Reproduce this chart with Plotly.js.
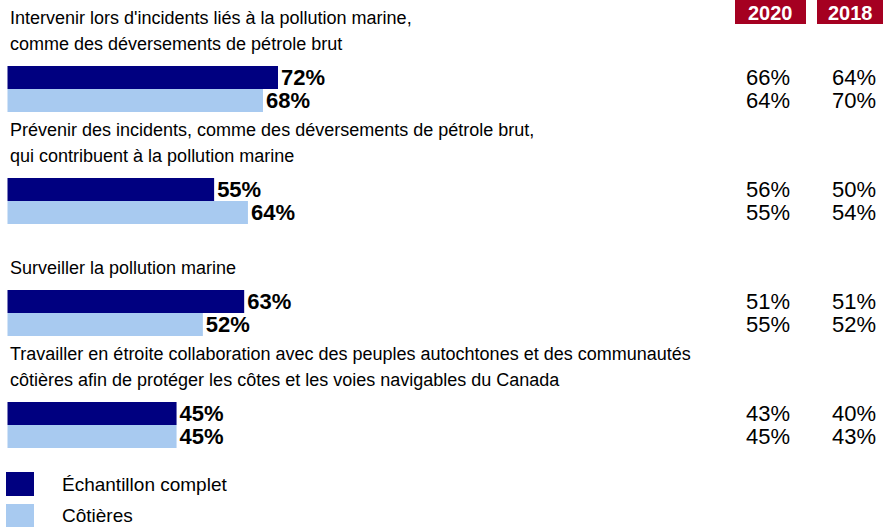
<!DOCTYPE html>
<html>
<head>
<meta charset="utf-8">
<script src="https://cdn.plot.ly/plotly-3.0.1.min.js"></script>
<style>
  body { margin: 0; background: #fff; }
  #chart { width: 883px; height: 527px; }
</style>
</head>
<body>
<div id="chart"></div>
<script>
const questions = [
  "Intervenir lors d'incidents liés à la pollution marine,<br>comme des déversements de pétrole brut",
  "Prévenir des incidents, comme des déversements de pétrole brut,<br>qui contribuent à la pollution marine",
  "Surveiller la pollution marine",
  "Travailler en étroite collaboration avec des peuples autochtones et des communautés<br>côtières afin de protéger les côtes et les voies navigables du Canada",
];
const seriesNames = ["Échantillon complet", "Côtières"];
const fullSample = [72, 55, 63, 45];
const coastal = [68, 64, 52, 45];
const years = ["2020", "2018"];
const fullSample2020 = [66, 56, 51, 43];
const coastal2020 = [64, 55, 55, 45];
const fullSample2018 = [64, 50, 51, 40];
const coastal2018 = [70, 54, 52, 43];

const W = 883, H = 527;
const NAVY = "#000080";
const LIGHT = "#a8caf0";
const RED = "#a50021";
const ARIAL = "Liberation Sans, Arial, sans-serif";

// y axis: one unit per question, 112px apart
const unit = 112;
const px = 1 / unit;
const barW = 23 * px;
const idx = questions.map((_, i) => i);

const traces = [
  {
    type: "bar",
    orientation: "h",
    name: seriesNames[0],
    y: idx,
    x: fullSample,
    text: fullSample.map((v) => v + "%"),
    marker: { color: NAVY },
  },
  {
    type: "bar",
    orientation: "h",
    name: seriesNames[1],
    y: idx,
    x: coastal,
    text: coastal.map((v) => v + "%"),
    marker: { color: LIGHT },
  },
].map((t) => ({
  ...t,
  textposition: "outside",
  constraintext: "none",
  cliponaxis: false,
  textfont: { family: ARIAL, size: 22, color: "#000", weight: "bold" },
  hoverinfo: "skip",
}));

const annotations = [];
const shapes = [];

// question labels, one annotation per line so the leading can be set
questions.forEach((q, i) => {
  const lines = q.split("<br>").reverse();
  lines.forEach((line, k) => {
    annotations.push({
      xref: "paper", yref: "y",
      x: 8 / W, y: i - (45 + 26 * k) * px,
      xanchor: "left", yanchor: "middle",
      text: line, showarrow: false, align: "left",
      font: { family: ARIAL, size: 18, color: "#000" },
    });
  });
});

const yearCols = [
  { right: 792, full: fullSample2020, coast: coastal2020 },
  { right: 878, full: fullSample2018, coast: coastal2018 },
];
yearCols.forEach((col) => {
  [col.full, col.coast].forEach((vals, s) => {
    vals.forEach((v, i) => {
      annotations.push({
        xref: "paper", yref: "y",
        x: col.right / W, y: i + (s === 0 ? -barW / 2 : barW / 2),
        xanchor: "right", yanchor: "middle",
        text: v + "%", showarrow: false,
        font: { family: ARIAL, size: 22, color: "#000" },
      });
    });
  });
});

// year headers (boxes run off the top edge)
const headerBoxes = [[735, 806], [817, 883]];
years.forEach((yr, k) => {
  const [x0, x1] = headerBoxes[k];
  shapes.push({
    type: "rect", xref: "paper", yref: "paper",
    x0: x0 / W, x1: x1 / W, y0: 1 - 24 / H, y1: 1.1,
    fillcolor: RED, line: { width: 0 },
  });
  annotations.push({
    xref: "paper", yref: "paper",
    x: (x0 + x1) / 2 / W, y: 1 - 13 / H,
    xanchor: "center", yanchor: "middle",
    text: "<b>" + yr + "</b>", showarrow: false,
    font: { family: ARIAL, size: 20, color: "#fff" },
  });
});

// legend
const legendRows = [[472, 496, NAVY], [504, 527, LIGHT]];
seriesNames.forEach((nm, k) => {
  const [y0, y1, c] = legendRows[k];
  shapes.push({
    type: "rect", xref: "paper", yref: "paper",
    x0: 6 / W, x1: 34 / W, y0: 1 - y1 / H, y1: 1 - y0 / H,
    fillcolor: c, line: { width: 0 },
  });
  annotations.push({
    xref: "paper", yref: "paper",
    x: 60 / W, y: 1 - (y0 + y1) / 2 / H,
    xanchor: "left", yanchor: "middle",
    text: nm, showarrow: false,
    font: { family: ARIAL, size: 19, color: "#000" },
  });
});

const x0px = 7.5, pxPerPct = (278 - 7.5) / 72;

const layout = {
  width: W,
  height: H,
  margin: { l: 0, r: 0, t: 0, b: 0 },
  paper_bgcolor: "#fff",
  plot_bgcolor: "#fff",
  showlegend: false,
  barmode: "group",
  bargap: 1 - 2 * barW,
  bargroupgap: 0,
  xaxis: {
    range: [-x0px / pxPerPct, (W - x0px) / pxPerPct],
    visible: false,
    fixedrange: true,
  },
  yaxis: {
    range: [(H - 89) / unit, -89 / unit],
    visible: false,
    fixedrange: true,
  },
  annotations,
  shapes,
};

Plotly.newPlot("chart", traces, layout, { displayModeBar: false, staticPlot: true });
</script>
</body>
</html>
